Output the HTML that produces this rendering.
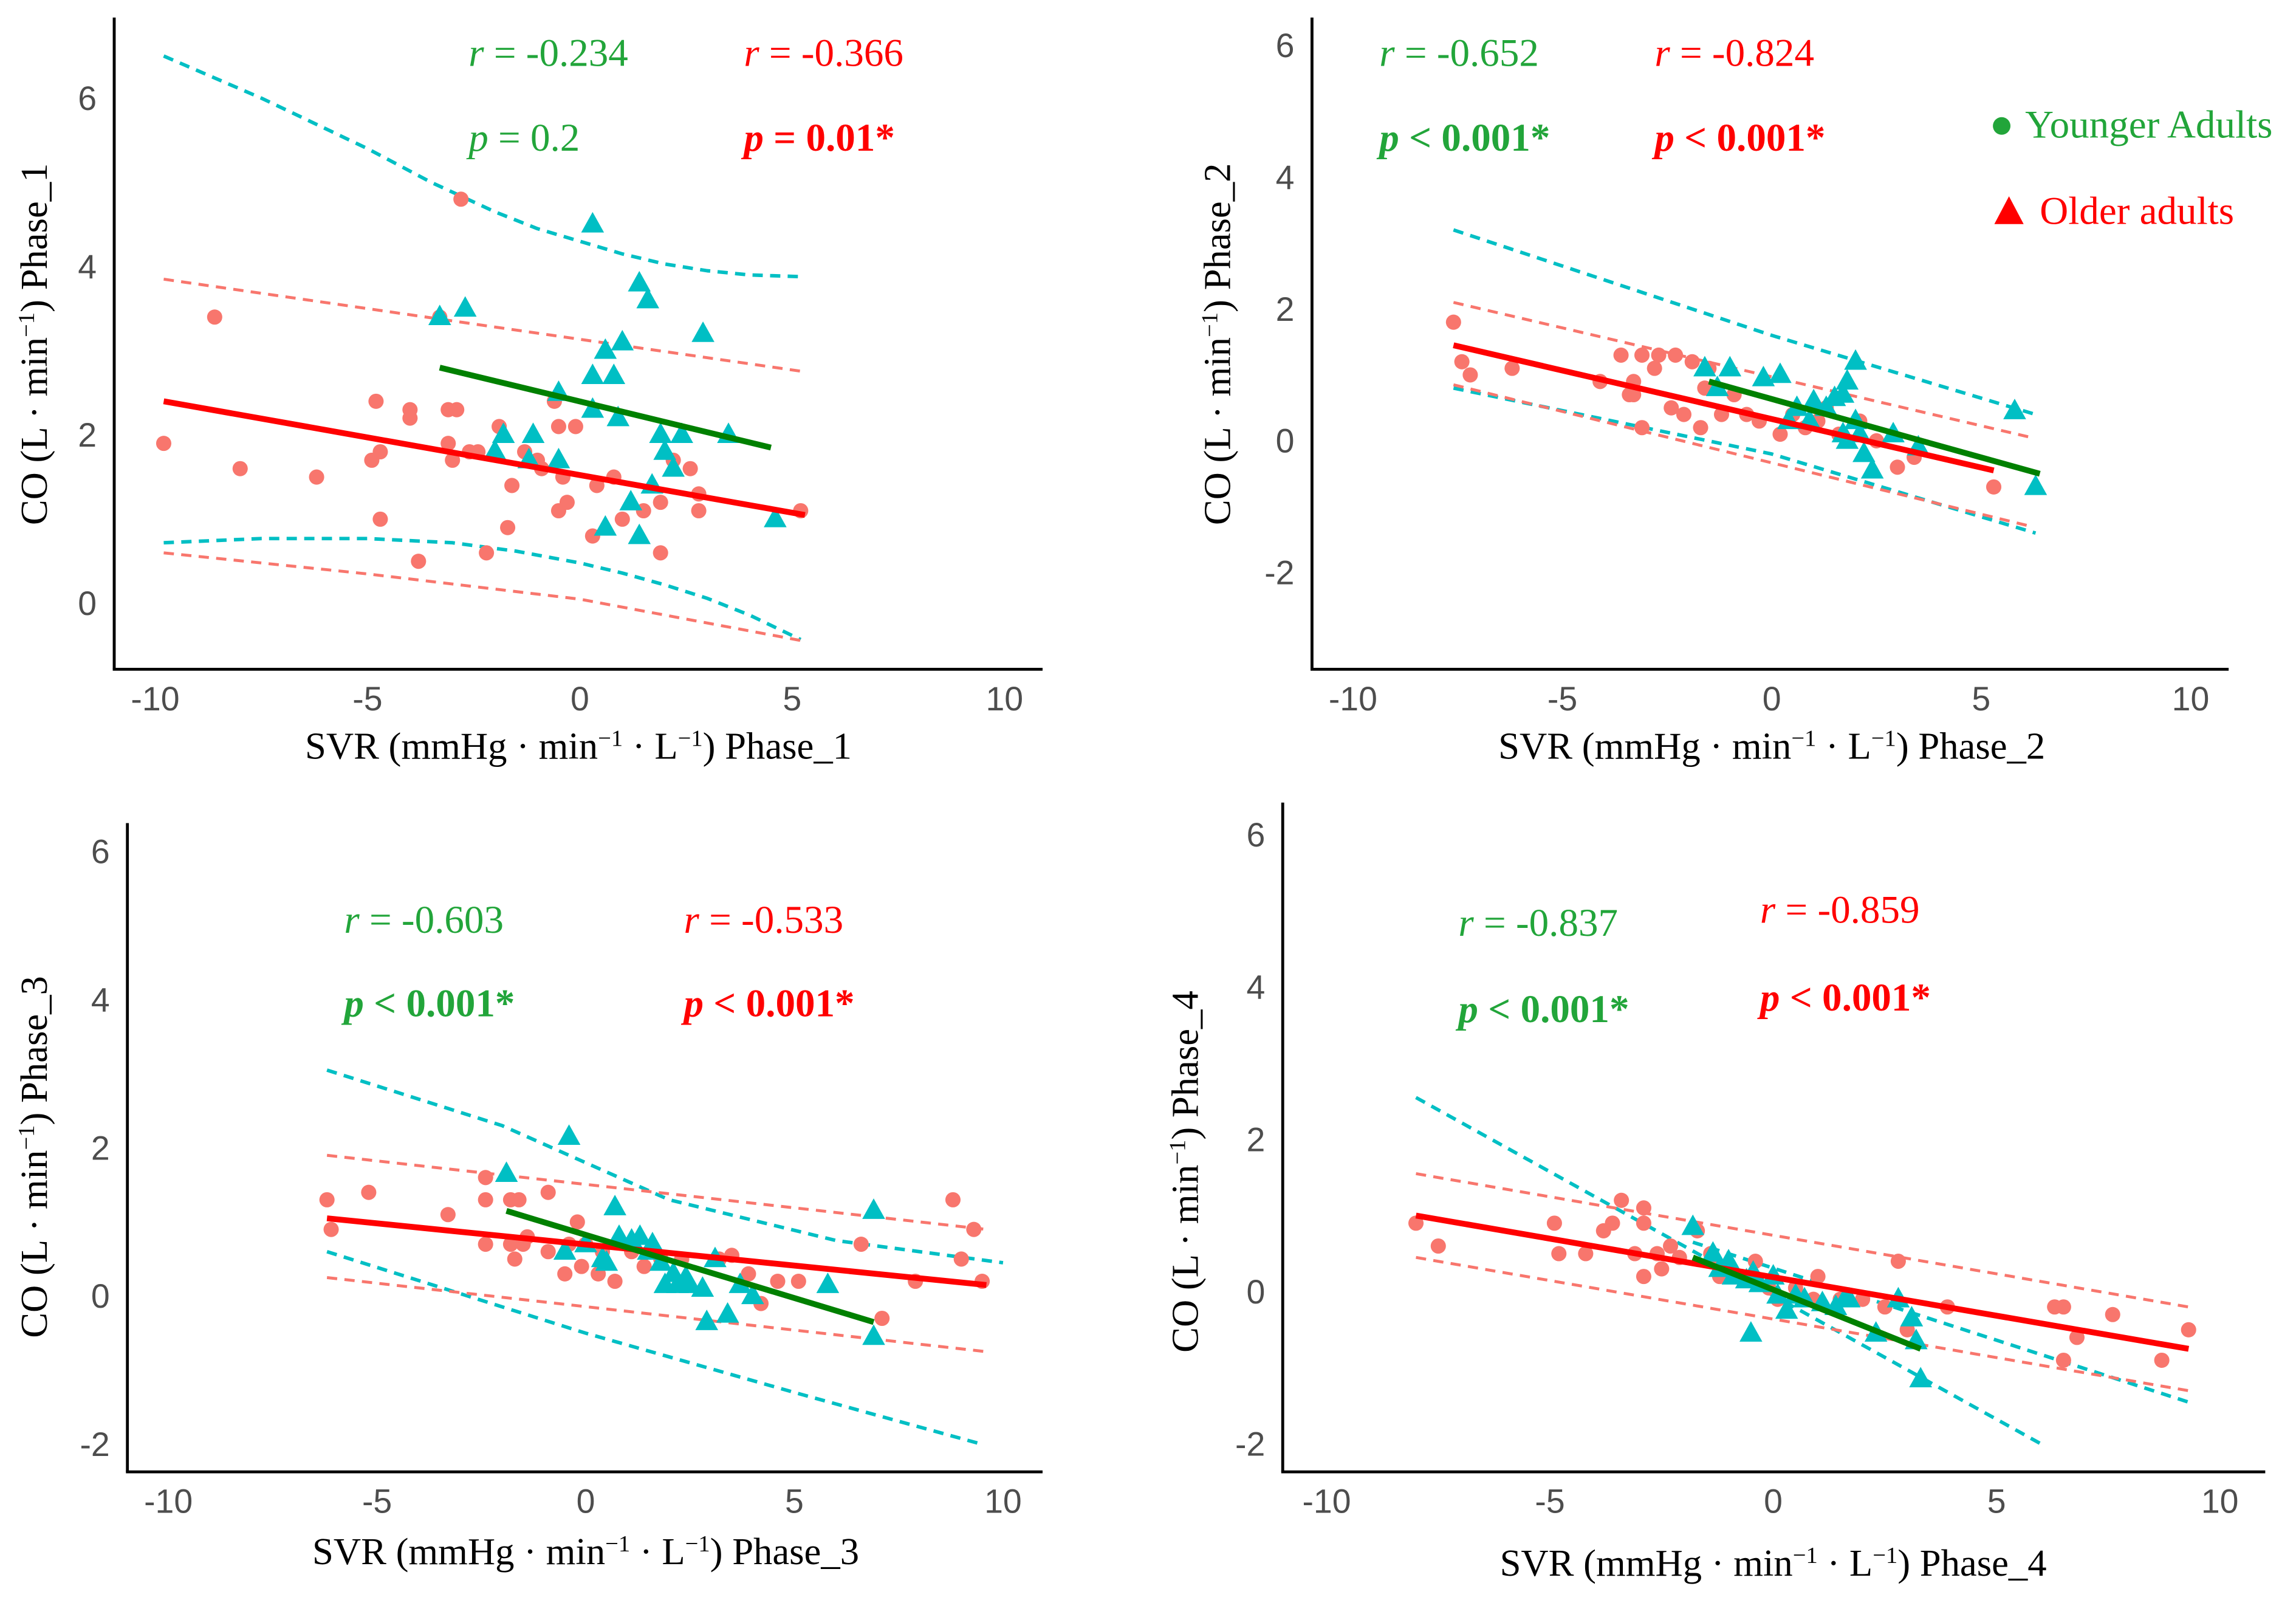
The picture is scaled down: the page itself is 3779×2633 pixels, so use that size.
<!DOCTYPE html>
<html><head><meta charset="utf-8">
<style>
html,body{margin:0;padding:0;background:#fff;}
svg{display:block;}
.tick{font-family:"Liberation Sans",sans-serif;font-size:23px;fill:#4d4d4d;}
.ttl{font-family:"Liberation Serif",serif;font-size:26px;fill:#000;}
.ann{font-family:"Liberation Serif",serif;font-size:27px;}
</style></head>
<body>
<svg id="chart" width="3779" height="2633" viewBox="0 0 1568 1092.5" xmlns="http://www.w3.org/2000/svg"></svg>
<script>
// ---------- DATA ----------
const xTicks = [-10,-5,0,5,10];
const p1YTicks=[0,2,4,6], p2YTicks=[-2,0,2,4,6], p3YTicks=[-2,0,2,4,6], p4YTicks=[-2,0,2,4,6];

const p1RedX=[-9.8,-8.6,-8.0,-6.2,-4.9,-4.8,-4.7,-4.7,-4.0,-4.0,-3.8,-3.3,-3.1,-2.9,-3.1,-3.0,-2.8,-2.6,-2.4,-2.2,-1.9,-1.7,-1.6,-1.3,-1.0,-0.9,-0.6,-0.5,-0.5,-0.4,-0.3,-0.1,0.3,0.4,0.8,1.0,1.5,1.9,1.9,2.2,2.6,2.8,2.8,5.2];
const p1RedY=[1.9,3.4,1.6,1.5,1.7,2.4,1.8,1.0,2.3,2.2,0.5,3.4,2.3,2.3,1.9,1.7,4.8,1.8,1.8,0.6,2.1,0.9,1.4,1.8,1.7,1.6,2.4,2.1,1.1,1.5,1.2,2.1,0.8,1.4,1.5,1.0,1.1,0.6,1.2,1.7,1.6,1.1,1.3,1.1];
const p1CyanX=[-3.3,-2.7,-0.5,0.3,0.3,0.3,0.6,1.0,0.9,0.8,1.4,1.6,1.9,2.4,2.9,2.0,2.2,1.7,1.2,1.4,0.6,-0.5,-1.1,-1.8,-2.0,3.5,4.6,-1.2];
const p1CyanY=[3.4,3.5,2.5,4.5,2.3,2.7,3.0,3.1,2.2,2.7,3.8,3.6,2.0,2.0,3.2,1.8,1.6,1.4,1.2,0.8,0.9,1.7,2.0,2.0,1.8,2.0,1.0,1.7];
const p1RedLineX=[-9.8,5.3], p1RedLineY=[2.4,1.05];
const p1GreenLineX=[-3.3,4.5], p1GreenLineY=[2.8,1.85];
const p1RedUpX=[-9.8,5.3], p1RedUpY=[3.85,2.75];
const p1RedLoX=[-9.8,-5,0,5.3], p1RedLoY=[0.6,0.35,0.05,-0.45];
const p1CyUpX=[-9.8,-7.5,-5,-3.5,-2,-1,0,1,2,3,4,5.2], p1CyUpY=[6.5,6.0,5.4,5.0,4.65,4.45,4.3,4.15,4.03,3.95,3.9,3.88];
const p1CyLoX=[-9.8,-7.5,-5,-3,-1.5,0,1,2,3,4,5.2], p1CyLoY=[0.72,0.77,0.77,0.72,0.62,0.48,0.36,0.22,0.06,-0.14,-0.43];

const p2RedX=[-7.6,-7.4,-7.2,-6.2,-4.1,-3.6,-3.4,-3.3,-3.3,-3.1,-3.1,-2.8,-2.7,-2.4,-2.3,-2.1,-1.9,-1.7,-1.6,-1.5,-1.2,-0.9,-0.6,-0.3,0.2,0.5,0.8,1.1,1.3,1.6,2.1,2.5,3.0,3.4,5.3];
const p2RedY=[1.8,1.2,1.0,1.1,0.9,1.3,0.7,0.9,0.7,0.2,1.3,1.1,1.3,0.5,1.3,0.4,1.2,0.2,0.8,1.1,0.4,0.7,0.4,0.3,0.1,0.4,0.2,0.3,0.5,0.1,0.3,0.0,-0.4,-0.25,-0.7];
const p2CyanX=[-1.6,-1.0,-1.3,-0.2,0.2,0.4,0.6,0.9,1.0,1.3,1.5,1.7,1.8,2.0,1.7,2.0,2.1,2.2,2.4,1.8,2.9,3.5,5.8,6.3];
const p2CyanY=[1.1,1.1,0.8,0.95,1.0,0.3,0.5,0.3,0.6,0.5,0.65,0.7,0.9,1.2,0.1,0.3,0.1,-0.2,-0.45,0.0,0.1,-0.1,0.45,-0.7];
const p2RedLineX=[-7.6,5.3], p2RedLineY=[1.45,-0.45];
const p2GreenLineX=[-1.5,6.4], p2GreenLineY=[0.9,-0.5];
const p2RedUpX=[-7.6,6.2], p2RedUpY=[2.1,0.05];
const p2RedLoX=[-7.6,6.2], p2RedLoY=[0.85,-1.3];
const p2CyUpX=[-7.6,0,6.3], p2CyUpY=[3.2,1.6,0.4];
const p2CyLoX=[-7.6,0,6.3], p2CyLoY=[0.8,-0.2,-1.4];

const p3RedX=[-6.2,-6.1,-5.2,-3.3,-2.4,-2.4,-2.4,-1.8,-1.8,-1.7,-1.6,-1.5,-1.4,-0.9,-0.9,-0.5,-0.4,-0.2,-0.1,0,0.3,0.4,0.7,1.1,1.4,1.8,2.3,3.2,3.5,3.9,4.2,4.6,5.1,6.6,7.1,7.9,8.8,9.0,9.3,9.5];
const p3RedY=[1.3,0.9,1.4,1.1,1.6,1.3,0.7,0.7,1.3,0.5,1.3,0.7,0.8,1.4,0.6,0.3,0.7,1.0,0.4,0.7,0.3,0.6,0.2,0.6,0.4,0.5,0.5,0.5,0.55,0.3,-0.1,0.2,0.2,0.7,-0.3,0.2,1.3,0.5,0.9,0.2];
const p3CyanX=[-1.9,-0.4,-0.5,0,0.4,0.5,0.7,0.8,1.1,1.3,1.5,1.6,1.8,1.9,2.1,2.2,2.4,2.5,2.8,2.9,3.1,3.4,3.7,4.0,5.8,6.9,6.9];
const p3CyanY=[1.65,2.15,0.6,0.7,0.5,0.45,1.2,0.8,0.75,0.8,0.6,0.7,0.45,0.15,0.3,0.15,0.25,0.15,0.1,-0.35,0.5,-0.25,0.15,0,0.15,1.15,-0.55];
const p3RedLineX=[-6.2,9.6], p3RedLineY=[1.05,0.15];
const p3GreenLineX=[-1.9,6.9], p3GreenLineY=[1.15,-0.35];
const p3RedUpX=[-6.2,9.6], p3RedUpY=[1.9,0.9];
const p3RedLoX=[-6.2,9.6], p3RedLoY=[0.25,-0.75];
const p3CyUpX=[-6.2,-2,2,6,10], p3CyUpY=[3.05,2.3,1.3,0.75,0.45];
const p3CyLoX=[-6.2,0,5,9.5], p3CyLoY=[0.6,-0.5,-1.3,-2.0];

const p4RedX=[-8.0,-7.5,-4.9,-4.8,-4.2,-3.8,-3.6,-3.4,-3.1,-2.9,-2.9,-2.9,-2.6,-2.5,-2.3,-2.1,-1.7,-1.4,-1.3,-1.2,-1.0,-0.7,-0.4,-0.1,0.1,0.5,0.9,1.0,1.5,2.0,2.5,2.8,3.0,3.9,6.3,6.5,6.5,6.8,7.6,8.7,9.3];
const p4RedY=[0.9,0.6,0.9,0.5,0.5,0.8,0.9,1.2,0.5,1.1,0.9,0.2,0.5,0.3,0.6,0.45,0.8,0.5,0.4,0.2,0.3,0.2,0.4,0.05,-0.1,0.05,-0.1,0.2,-0.1,-0.1,-0.2,0.4,-0.5,-0.2,-0.2,-0.2,-0.9,-0.6,-0.3,-0.9,-0.5];
const p4CyanX=[-1.8,-1.35,-1.2,-1.0,-0.9,-0.6,-0.5,-0.45,-0.3,0,0.1,0.3,0.5,0.7,1.1,1.4,1.6,1.7,2.3,2.8,3.1,3.2,3.3];
const p4CyanY=[0.85,0.5,0.3,0.4,0.2,0.15,-0.55,0.25,0.1,0.2,-0.05,-0.25,-0.05,-0.1,-0.15,-0.2,-0.1,-0.1,-0.55,-0.1,-0.35,-0.65,-1.15];
const p4RedLineX=[-8.0,9.3], p4RedLineY=[1.0,-0.75];
const p4GreenLineX=[-1.8,3.3], p4GreenLineY=[0.45,-0.75];
const p4RedUpX=[-8,9.3], p4RedUpY=[1.55,-0.2];
const p4RedLoX=[-8,9.3], p4RedLoY=[0.45,-1.3];
const p4CyUpX=[-8,6], p4CyUpY=[2.55,-2.0];
const p4CyLoX=[-1.8,9.3], p4CyLoY=[0.65,-1.45];

// ---------- DRAW ----------
const NS="http://www.w3.org/2000/svg";
const svg=document.getElementById('chart');
function el(tag,attrs,parent){const e=document.createElementNS(NS,tag);for(const k in attrs)e.setAttribute(k,attrs[k]);(parent||svg).appendChild(e);return e;}

const panels=[
 {n:1,ax:78,top:12,bottom:457,right:712,x0:396,xs:29,y0:412,ys:57.5,yt:p1YTicks,
  rx:p1RedX,ry:p1RedY,cx:p1CyanX,cy:p1CyanY,rl:[p1RedLineX,p1RedLineY],gl:[p1GreenLineX,p1GreenLineY],
  ru:[p1RedUpX,p1RedUpY],rlo:[p1RedLoX,p1RedLoY],cu:[p1CyUpX,p1CyUpY],clo:[p1CyLoX,p1CyLoY],
  ytx:32,yty:235,xtx:395,xty:518,fs:26},
 {n:2,ax:896,top:12,bottom:457,right:1522,x0:1210,xs:28.6,y0:301,ys:45,yt:p2YTicks,
  rx:p2RedX,ry:p2RedY,cx:p2CyanX,cy:p2CyanY,rl:[p2RedLineX,p2RedLineY],gl:[p2GreenLineX,p2GreenLineY],
  ru:[p2RedUpX,p2RedUpY],rlo:[p2RedLoX,p2RedLoY],cu:[p2CyUpX,p2CyUpY],clo:[p2CyLoX,p2CyLoY],
  ytx:840,yty:235,xtx:1210,xty:518,fs:26},
 {n:3,ax:87,top:562,bottom:1005,right:712,x0:400,xs:28.5,y0:885,ys:50.6,yt:p3YTicks,
  rx:p3RedX,ry:p3RedY,cx:p3CyanX,cy:p3CyanY,rl:[p3RedLineX,p3RedLineY],gl:[p3GreenLineX,p3GreenLineY],
  ru:[p3RedUpX,p3RedUpY],rlo:[p3RedLoX,p3RedLoY],cu:[p3CyUpX,p3CyUpY],clo:[p3CyLoX,p3CyLoY],
  ytx:32,yty:790,xtx:400,xty:1068,fs:26},
 {n:4,ax:876,top:548,bottom:1005,right:1547,x0:1211,xs:30.5,y0:882,ys:52,yt:p4YTicks,
  rx:p4RedX,ry:p4RedY,cx:p4CyanX,cy:p4CyanY,rl:[p4RedLineX,p4RedLineY],gl:[p4GreenLineX,p4GreenLineY],
  ru:[p4RedUpX,p4RedUpY],rlo:[p4RedLoX,p4RedLoY],cu:[p4CyUpX,p4CyUpY],clo:[p4CyLoX,p4CyLoY],
  ytx:818,yty:800,xtx:1211,xty:1076,fs:28}
];

function titleWithSup(parent,parts,attrs){
  const t=el('text',attrs,parent);
  parts.forEach(p=>{const s=el('tspan',p.sup?{'baseline-shift':'super','font-size':'16'}:{},t);s.textContent=p.t;});
  return t;
}

panels.forEach(P=>{
  const g=el('g',{});
  
  
  const X=v=>P.x0+v*P.xs, Y=v=>P.y0-v*P.ys;
  const line=(xs,ys,attrs,name)=>{const pl=el('polyline',Object.assign({points:xs.map((x,i)=>X(x)+','+Y(ys[i])).join(' '),fill:'none','stroke-linejoin':'round'},attrs),g);
    
    };
  const ya=el('line',{x1:P.ax,y1:P.top,x2:P.ax,y2:P.bottom,stroke:'#000','stroke-width':2},g);
  
  
  const xa=el('line',{x1:P.ax-1,y1:P.bottom,x2:P.right,y2:P.bottom,stroke:'#000','stroke-width':2},g);
  
  
  xTicks.forEach(v=>{const t=el('text',{x:X(v),y:P.bottom+28,'text-anchor':'middle',class:'tick'},g);t.textContent=v;
    
    });
  P.yt.forEach(v=>{const t=el('text',{x:P.ax-12,y:Y(v)+8,'text-anchor':'end',class:'tick'},g);t.textContent=v;
    
    });
  line(P.cu[0],P.cu[1],{stroke:'#00BFC4','stroke-width':2.4,'stroke-dasharray':'7 5'},'younger-ci-upper');
  line(P.clo[0],P.clo[1],{stroke:'#00BFC4','stroke-width':2.4,'stroke-dasharray':'7 5'},'younger-ci-lower');
  line(P.ru[0],P.ru[1],{stroke:'#F8766D','stroke-width':2,'stroke-dasharray':'7 5'},'older-ci-upper');
  line(P.rlo[0],P.rlo[1],{stroke:'#F8766D','stroke-width':2,'stroke-dasharray':'7 5'},'older-ci-lower');
  P.rx.forEach((x,i)=>{const c=el('circle',{cx:X(x),cy:Y(P.ry[i]),r:5.2,fill:'#F8766D'},g);
    
    });
  P.cx.forEach((x,i)=>{const px=X(x),py=Y(P.cy[i]);
    const t=el('polygon',{points:`${px},${py-8.5} ${px-7.8},${py+5.5} ${px+7.8},${py+5.5}`,fill:'#00BFC4'},g);
    
    });
  line(P.rl[0],P.rl[1],{stroke:'#FF0000','stroke-width':4},'older-regression-line');
  line(P.gl[0],P.gl[1],{stroke:'#008000','stroke-width':4},'younger-regression-line');
  const yt=titleWithSup(g,[{t:'CO (L · min'},{t:'−1',sup:1},{t:') Phase_'+P.n}],
    {x:P.ytx,y:P.yty,'text-anchor':'middle',class:'ttl','font-size':P.fs,transform:`rotate(-90 ${P.ytx} ${P.yty})`});
  
  
  const xt=titleWithSup(g,[{t:'SVR (mmHg · min'},{t:'−1',sup:1},{t:' · L'},{t:'−1',sup:1},{t:') Phase_'+P.n}],
    {x:P.xtx,y:P.xty,'text-anchor':'middle',class:'ttl','font-size':P.fs});
  
  
});

const annots=[
 [320,45,'#22a53a','-0.234','0.2',false,'=',508,'#ff0000','-0.366','0.01*',true,'=',103],
 [942,45,'#22a53a','-0.652','0.001*',true,'<',1130,'#ff0000','-0.824','0.001*',true,'<',103],
 [235,637,'#22a53a','-0.603','0.001*',true,'<',467,'#ff0000','-0.533','0.001*',true,'<',694],
 [996,639,'#22a53a','-0.837','0.001*',true,'<',1202,'#ff0000','-0.859','0.001*',true,'<',690]
];
const annY2=[103,103,694,698];
annots.forEach((a,k)=>{
  [[a[0],a[2],a[3],a[4],a[5],a[6]],[a[7],a[8],a[9],a[10],a[11],a[12]]].forEach((s,j)=>{
    const r=el('text',{x:s[0],y:a[1],class:'ann',fill:s[1]});
    r.innerHTML='<tspan font-style="italic">r</tspan> = '+s[2];
    
    
    const yy = (k===3 && j===1)? 690 : annY2[k];
    const yr = (k===3 && j===1)? 630 : a[1];
    r.setAttribute('y',yr);
    const p=el('text',{x:s[0],y:yy,class:'ann',fill:s[1],'font-weight':s[4]?'bold':'normal'});
    p.innerHTML='<tspan font-style="italic">p</tspan> '+s[5]+' '+s[3];
    
    
  });
});

const lg=el('g',{});


const lc=el('circle',{cx:1367,cy:86,r:6,fill:'#22a53a'},lg);


const lt1=el('text',{x:1383,y:94,class:'ann',fill:'#22a53a'},lg);lt1.textContent='Younger Adults';


const ltr=el('polygon',{points:'1372,134 1362,153 1382,153',fill:'#ff0000'},lg);


const lt2=el('text',{x:1393,y:153,class:'ann',fill:'#ff0000'},lg);lt2.textContent='Older adults';


</script>
</body></html>
